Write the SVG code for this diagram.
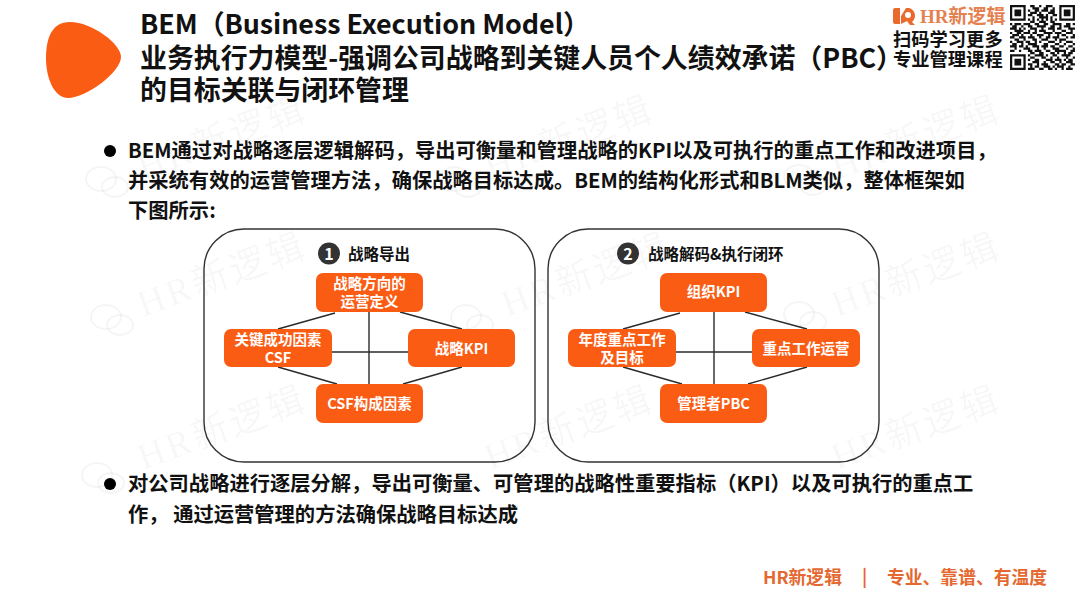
<svg xmlns="http://www.w3.org/2000/svg" width="1080" height="608" viewBox="0 0 1080 608">
<style>
text{font-family:"Liberation Sans","Noto Sans CJK SC",sans-serif}
.cjk{font-family:"Noto Sans CJK SC",sans-serif;font-weight:700}
.title{font-size:26.9px;fill:#111}
.body{font-size:20.3px;fill:#111}
.ptitle{font-size:15.5px;fill:#111}
.num{font-size:16px;fill:#fff;text-anchor:middle}
.ntext{font-size:14.5px;fill:#fff;text-anchor:middle}
.box{fill:#fb5c14;rx:7px;ry:7px}
.panel{fill:none;stroke:#333;stroke-width:1.4}
.link{stroke:#2b2b2b;stroke-width:1.4;fill:none}
.wm{font-family:"Liberation Serif","Noto Sans CJK SC",serif;font-size:37px;fill:#000;fill-opacity:.04;letter-spacing:3px}
.wi{fill:none;stroke:#000;stroke-opacity:.04;stroke-width:2}
.foot{font-size:17.8px;fill:#e4682f}
</style>
<defs>
<g id="wechat" class="wi"><ellipse cx="-6" cy="-3" rx="15" ry="12"/><ellipse cx="8" cy="5" rx="13" ry="10"/></g>
</defs>

<g id="watermarks">
<text class="wm" transform="translate(143,180) rotate(-20)">HR新逻辑</text>
<text class="wm" transform="translate(490,180) rotate(-20)">HR新逻辑</text>
<text class="wm" transform="translate(837,180) rotate(-20)">HR新逻辑</text>
<text class="wm" transform="translate(143,317) rotate(-20)">HR新逻辑</text>
<text class="wm" transform="translate(507,317) rotate(-20)">HR新逻辑</text>
<text class="wm" transform="translate(837,317) rotate(-20)">HR新逻辑</text>
<text class="wm" transform="translate(143,470) rotate(-20)">HR新逻辑</text>
<text class="wm" transform="translate(490,470) rotate(-20)">HR新逻辑</text>
<text class="wm" transform="translate(837,470) rotate(-20)">HR新逻辑</text>
<use href="#wechat" x="107" y="182"/><use href="#wechat" x="472" y="320"/><use href="#wechat" x="805" y="317"/>
<use href="#wechat" x="112" y="320"/><use href="#wechat" x="103" y="478"/><use href="#wechat" x="460" y="182"/>
<use href="#wechat" x="805" y="180"/>
</g>

<path id="blob" d="M70 22C92 22 121 44 121 57C121 72 86 98 68 98C54 98 46 78 46 58C46 38 52 22 70 22Z" fill="#fb5c14"/>

<g id="heading">
<text class="cjk title" x="140" y="34" textLength="450" lengthAdjust="spacing">BEM（Business Execution Model）</text>
<text class="cjk title" x="140" y="68">业务执行力模型-强调公司战略到关键人员个人绩效承诺（PBC）</text>
<text class="cjk title" x="140" y="100">的目标关联与闭环管理</text>
</g>

<g id="brand">
<path d="M893 10Q893 8 895 8H900V24H895Q893 24 893 22Z" fill="#ea6a2e"/>
<path d="M901 16L906 8H909A8 8 0 0 1 912 22L915 25H910L907 21L901 24Z" fill="#ea6a2e"/>
<circle cx="908" cy="15" r="3" fill="#fff"/>
<text x="920" y="23" font-size="19" font-weight="700" fill="#e5804f" style="font-family:'Liberation Serif','Noto Sans CJK SC',serif">HR新逻辑</text>
<text class="cjk" x="893" y="46" font-size="18.3" fill="#111">扫码学习更多</text>
<text class="cjk" x="893" y="66" font-size="18.3" fill="#111">专业管理课程</text>
</g>

<g id="qr" transform="translate(1010,5) scale(2.24)">
<path fill="#111" fill-rule="evenodd" d="M0 0h7v7h-7zM1 1v5h5v-5zM2 2h3v3h-3zM22 0h7v7h-7zM23 1v5h5v-5zM24 2h3v3h-3zM0 22h7v7h-7zM1 23v5h5v-5zM2 24h3v3h-3z"/>
<path stroke="#111" stroke-width="1" fill="none" d="M9 .5h2M13 .5h1M16 .5h3M10 1.5h3M15 1.5h2M19 1.5h1M8 2.5h1M11 2.5h2M14 2.5h3M18 2.5h2M9 3.5h3M13 3.5h1M17 3.5h3M8 4.5h2M12 4.5h3M16 4.5h1M19 4.5h2M10 5.5h1M13 5.5h4M18 5.5h1M8 6.5h1M10 6.5h1M12 6.5h1M14 6.5h1M16 6.5h1M18 6.5h1M20 6.5h1M9 7.5h2M13 7.5h3M18 7.5h2M0 8.5h1M2 8.5h3M6 8.5h3M11 8.5h2M15 8.5h2M19 8.5h4M25 8.5h2M28 8.5h1M1 9.5h2M5 9.5h1M8 9.5h2M12 9.5h4M18 9.5h2M22 9.5h1M24 9.5h3M0 10.5h3M4 10.5h1M6 10.5h1M9 10.5h3M14 10.5h1M17 10.5h3M21 10.5h2M26 10.5h3M2 11.5h4M8 11.5h1M11 11.5h1M13 11.5h3M19 11.5h1M23 11.5h2M27 11.5h1M0 12.5h1M3 12.5h2M6 12.5h3M10 12.5h2M15 12.5h4M20 12.5h3M25 12.5h3M1 13.5h3M5 13.5h1M9 13.5h1M12 13.5h3M17 13.5h1M21 13.5h1M23 13.5h2M28 13.5h1M0 14.5h2M4 14.5h3M8 14.5h3M13 14.5h1M16 14.5h2M19 14.5h3M25 14.5h1M27 14.5h2M2 15.5h2M6 15.5h1M10 15.5h2M14 15.5h3M20 15.5h1M22 15.5h3M0 16.5h1M3 16.5h3M7 16.5h2M11 16.5h1M13 16.5h1M17 16.5h3M22 16.5h1M25 16.5h3M1 17.5h2M5 17.5h1M8 17.5h4M15 17.5h2M20 17.5h2M24 17.5h1M28 17.5h1M0 18.5h3M4 18.5h2M7 18.5h1M10 18.5h3M14 18.5h3M18 18.5h2M22 18.5h2M26 18.5h2M2 19.5h1M6 19.5h3M12 19.5h1M15 19.5h1M19 19.5h3M25 19.5h1M28 19.5h1M0 20.5h2M4 20.5h1M8 20.5h2M11 20.5h3M16 20.5h2M20 20.5h5M27 20.5h2M9 21.5h2M13 21.5h2M18 21.5h2M21 21.5h1M24 21.5h1M26 21.5h2M8 22.5h1M11 22.5h4M16 22.5h1M19 22.5h2M23 22.5h4M9 23.5h2M14 23.5h2M18 23.5h1M21 23.5h1M25 23.5h1M28 23.5h1M8 24.5h1M11 24.5h2M16 24.5h3M20 24.5h3M24 24.5h1M26 24.5h2M10 25.5h3M15 25.5h1M18 25.5h2M22 25.5h1M25 25.5h3M8 26.5h2M12 26.5h1M14 26.5h3M20 26.5h2M23 26.5h2M27 26.5h2M9 27.5h1M11 27.5h2M15 27.5h3M19 27.5h1M21 27.5h3M26 27.5h1M8 28.5h3M13 28.5h2M17 28.5h2M20 28.5h1M23 28.5h1M25 28.5h3"/>
</g>

<g id="bullets-top">
<circle cx="110" cy="151" r="6" fill="#000"/>
<text class="cjk body" x="128" y="158">BEM通过对战略逐层逻辑解码，导出可衡量和管理战略的KPI以及可执行的重点工作和改进项目，</text>
<text class="cjk body" x="128" y="188">并采统有效的运营管理方法，确保战略目标达成。BEM的结构化形式和BLM类似，整体框架如</text>
<text class="cjk body" x="128" y="218">下图所示:</text>
</g>

<g id="panel1">
<rect class="panel" x="204" y="229" width="331" height="233" rx="40"/>
<circle cx="329" cy="253.500" r="11" fill="#333"/>
<text class="cjk num" x="329" y="259.500">1</text>
<text class="cjk ptitle" x="348" y="259.500">战略导出</text>
</g>
<g id="panel2">
<rect class="panel" x="548" y="229" width="331" height="233" rx="40"/>
<circle cx="628" cy="253.500" r="11" fill="#333"/>
<text class="cjk num" x="628" y="259.500">2</text>
<text class="cjk ptitle" x="648" y="259.500">战略解码&amp;执行闭环</text>
</g>

<g id="connectors">
<path class="link" d="M335 313L278 329M400 312L462 329M369 312V384M332 352H408M278 367L337 384M462 367L403 384"/>
<path class="link" d="M680 313L623 329M745 312L807 329M714 312V384M676 352H752M623 367L682 384M807 367L748 384"/>
</g>

<g id="n-strategy"><rect class="box" x="316" y="273" width="107" height="39"/>
<text class="cjk ntext" x="369.500" y="289">战略方向的</text><text class="cjk ntext" x="369.500" y="307">运营定义</text></g>
<g id="n-csf"><rect class="box" x="224" y="329" width="108" height="38"/>
<text class="cjk ntext" x="278" y="345">关键成功因素</text><text class="cjk ntext" x="278" y="363">CSF</text></g>
<g id="n-kpi"><rect class="box" x="408" y="329" width="107" height="38"/>
<text class="cjk ntext" x="461.500" y="354">战略KPI</text></g>
<g id="n-factors"><rect class="box" x="316" y="384" width="107" height="39"/>
<text class="cjk ntext" x="369.500" y="409">CSF构成因素</text></g>

<g id="n-orgkpi"><rect class="box" x="660" y="273" width="107" height="39"/>
<text class="cjk ntext" x="713.500" y="297">组织KPI</text></g>
<g id="n-annual"><rect class="box" x="568" y="329" width="108" height="38"/>
<text class="cjk ntext" x="622" y="345">年度重点工作</text><text class="cjk ntext" x="622" y="363">及目标</text></g>
<g id="n-ops"><rect class="box" x="752" y="329" width="108" height="38"/>
<text class="cjk ntext" x="806" y="354">重点工作运营</text></g>
<g id="n-pbc"><rect class="box" x="660" y="384" width="107" height="39"/>
<text class="cjk ntext" x="713.500" y="409">管理者PBC</text></g>

<g id="bullets-bottom">
<circle cx="110" cy="484" r="6" fill="#000"/>
<text class="cjk body" x="128" y="491">对公司战略进行逐层分解，导出可衡量、可管理的战略性重要指标（KPI）以及可执行的重点工</text>
<text class="cjk body" x="128" y="522">作， 通过运营管理的方法确保战略目标达成</text>
</g>

<g id="footer">
<text class="cjk foot" x="763" y="584">HR新逻辑</text>
<text class="cjk foot" x="862" y="583">|</text>
<text class="cjk foot" x="887" y="584">专业、靠谱、有温度</text>
</g>
</svg>
